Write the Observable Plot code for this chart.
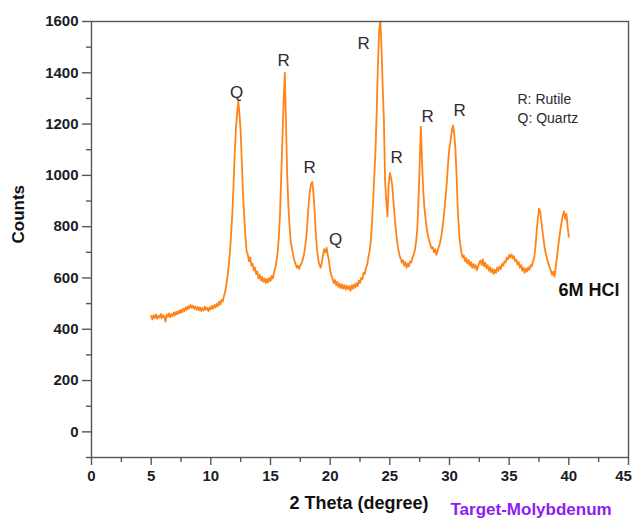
<!DOCTYPE html>
<html>
<head>
<meta charset="utf-8">
<script src="https://cdn.jsdelivr.net/npm/d3@7"></script>
<script src="https://cdn.jsdelivr.net/npm/@observablehq/plot@0.6"></script>
<style>
  html, body { margin: 0; padding: 0; background: #fff; }
  #chart { width: 632px; height: 518px; overflow: hidden; }
</style>
</head>
<body>
<div id="chart"></div>
<script>
// 2θ grid of the scan (degrees)
const thetaStart = 5.0;
const thetaStep = 0.1;

const counts = [
  452, 438, 455, 444, 458, 441, 452, 446, 460, 443,   // 5
  455, 448, 430, 457, 449, 462, 447, 459, 451, 466,   // 6
  455, 468, 458, 472, 463, 476, 466, 480, 471, 486,   // 7
  476, 490, 481, 495, 484, 492, 480, 489, 476, 487,   // 8
  474, 485, 471, 483, 473, 488, 476, 484, 470, 486,   // 9
  478, 491, 480, 495, 485, 500, 490, 508, 496, 515,   // 10
  508, 530, 545, 575, 605, 650, 700, 770, 850, 960,   // 11
  1080, 1180, 1240, 1290, 1240, 1170, 1050, 920, 840, 760, // 12
  705, 690, 665, 680, 648, 655, 630, 640, 615, 625,   // 13
  598, 612, 590, 604, 585, 598, 580, 596, 583, 600,   // 14
  588, 608, 598, 622, 640, 665, 700, 760, 850, 1000,  // 15
  1140, 1290, 1400, 1200, 1000, 880, 800, 740, 715, 690, // 16
  668, 655, 640, 648, 635, 650, 655, 672, 690, 720,   // 17
  760, 820, 890, 940, 965, 975, 930, 860, 770, 710,   // 18
  672, 652, 640, 660, 690, 712, 700, 718, 690, 665,   // 19
  630, 610, 598, 580, 592, 572, 585, 565, 578, 560,   // 20
  575, 558, 572, 555, 570, 556, 568, 550, 572, 558,   // 21
  575, 562, 580, 568, 590, 580, 600, 595, 620, 615,   // 22
  640, 650, 680, 705, 740, 810, 900, 1000, 1100, 1250, // 23
  1430, 1560, 1610, 1500, 1350, 1220, 980, 900, 840, 960, // 24
  1010, 990, 960, 900, 840, 790, 745, 715, 690, 676,  // 25
  660, 670, 648, 662, 640, 656, 645, 665, 660, 680,   // 26
  690, 710, 740, 790, 900, 1040, 1190, 1050, 940, 870, // 27
  830, 790, 765, 745, 730, 715, 720, 700, 712, 690,   // 28
  705, 720, 735, 760, 790, 830, 880, 930, 990, 1060,  // 29
  1110, 1140, 1175, 1195, 1160, 1100, 990, 860, 780, 730, // 30
  700, 680, 688, 665, 678, 656, 670, 648, 662, 640,   // 31
  655, 638, 650, 630, 645, 660, 668, 650, 672, 645,   // 32
  660, 638, 650, 628, 642, 622, 636, 615, 632, 620,   // 33
  640, 628, 645, 635, 655, 648, 665, 660, 680, 672,   // 34
  690, 680, 692, 676, 685, 665, 672, 652, 662, 640,   // 35
  650, 628, 640, 620, 636, 625, 642, 632, 650, 645,   // 36
  665, 680, 720, 780, 830, 870, 860, 820, 780, 745,   // 37
  710, 690, 670, 655, 640, 628, 612, 625, 605, 640,   // 38
  680, 720, 755, 790, 820, 845, 860, 830, 850, 800,   // 39
  760                                                  // 40
];

// Phase labels above peaks (label anchor in data units)
const peakLabels = ["Q", "R", "R", "Q", "R", "R", "R", "R"];
const peakLabelTheta = [12.15, 16.1, 18.27, 20.45, 22.8, 25.57, 28.16, 30.85];
const peakLabelCounts = [1323, 1448, 1030, 749, 1514, 1069, 1229, 1252];

const legendLines = ["R: Rutile", "Q: Quartz"];
const sampleLabel = "6M HCl";
const xLabel = "2 Theta (degree)";
const yLabel = "Counts";
const targetLabel = "Target-Molybdenum";

const xTicks = [0, 5, 10, 15, 20, 25, 30, 35, 40, 45];
const xMinorTicks = [2.5, 7.5, 12.5, 17.5, 22.5, 27.5, 32.5, 37.5, 42.5];
const yTicks = [0, 200, 400, 600, 800, 1000, 1200, 1400, 1600];
const yMinorTicks = [-100, 100, 300, 500, 700, 900, 1100, 1300, 1500];

const scan = counts.map((c, i) => ({ theta: thetaStart + i * thetaStep, counts: c }));
const labels = peakLabels.map((t, i) => ({ text: t, theta: peakLabelTheta[i], counts: peakLabelCounts[i] }));

const font = "'Liberation Sans', Arial, Helvetica, sans-serif";
const axisGray = "#555";
const textDark = "#1c1c24";
const plain = d => String(d);
const lastTick = xTicks[xTicks.length - 1];

const chart = Plot.plot({
  width: 632,
  height: 518,
  marginLeft: 91,
  marginRight: 4,
  marginTop: 21,
  marginBottom: 61,
  style: { fontFamily: font, background: "#fff", color: textDark },
  x: { domain: [0, 45] },
  y: { domain: [-100, 1600] },
  marks: [
    Plot.line(scan, { x: "theta", y: "counts", stroke: "#ff8316", strokeWidth: 1.8, clip: true }),
    Plot.frame({ stroke: axisGray, strokeWidth: 1.4 }),
    Plot.axisX({ ticks: xTicks, tickSize: 8, stroke: axisGray, strokeWidth: 1.4, text: null, label: null }),
    Plot.axisX({ ticks: xTicks.filter(t => t !== lastTick), tickSize: 8, tickPadding: 5, stroke: "none",
                 fill: textDark, fontSize: 15, fontWeight: "bold", label: null, tickFormat: plain }),
    Plot.axisX({ ticks: [lastTick], tickSize: 8, tickPadding: 5, stroke: "none", dx: -5,
                 fill: textDark, fontSize: 15, fontWeight: "bold", label: null, tickFormat: plain }),
    Plot.axisX({ ticks: xMinorTicks, tickSize: 5, stroke: axisGray, strokeWidth: 1.4, text: null, label: null }),
    Plot.axisY({ ticks: yTicks, tickSize: 9, tickPadding: 4, stroke: axisGray, strokeWidth: 1.4,
                 fill: textDark, fontSize: 15, fontWeight: "bold", label: null, tickFormat: plain }),
    Plot.axisY({ ticks: yMinorTicks, tickSize: 5, stroke: axisGray, strokeWidth: 1.4, text: null, label: null }),
    Plot.text(labels, { x: "theta", y: "counts", text: "text", fontSize: 17, fill: "#2a2a33" }),
    Plot.text([legendLines.join("\n")], { frameAnchor: "top-left", dx: 426, dy: 70, textAnchor: "start",
                 lineAnchor: "top", lineHeight: 1.3, fontSize: 14, fill: "#2a2a33" }),
    Plot.text([sampleLabel], { frameAnchor: "top-left", dx: 467, dy: 262, textAnchor: "start",
                 fontSize: 18, fontWeight: "bold", fill: "#111" }),
    Plot.text([yLabel], { frameAnchor: "left", dx: -73, dy: 4, rotate: -90, fontSize: 17,
                 fontWeight: "bold", fill: "#111" }),
    Plot.text([xLabel], { frameAnchor: "bottom", dx: -1, dy: 51, fontSize: 18,
                 fontWeight: "bold", fill: "#111" }),
    Plot.text([targetLabel], { frameAnchor: "bottom-left", dx: 359, dy: 57, textAnchor: "start",
                 lineAnchor: "bottom", fontSize: 17, fontWeight: "bold", fill: "#8f1cf0" })
  ]
});
document.getElementById("chart").appendChild(chart);
</script>
</body>
</html>
